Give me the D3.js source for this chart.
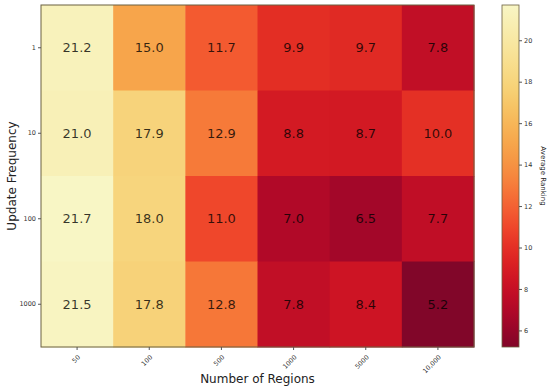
<!DOCTYPE html>
<html><head><meta charset="utf-8">
<script src="https://cdn.jsdelivr.net/npm/d3@7"></script>
<style>body{margin:0;background:#fff;} text{font-family:"DejaVu Sans",sans-serif;}</style>
</head><body><svg id="c" width="550" height="388"></svg>
<script>
const regions = ["50","100","500","1000","5000","10,000"];
const frequencies = ["1","10","100","1000"];
const row1 = [21.2, 15.0, 11.7, 9.9, 9.7, 7.8];
const row10 = [21.0, 17.9, 12.9, 8.8, 8.7, 10.0];
const row100 = [21.7, 18.0, 11.0, 7.0, 6.5, 7.7];
const row1000 = [21.5, 17.8, 12.8, 7.8, 8.4, 5.2];
const rows = [row1, row10, row100, row1000];
const cbTicks = [6, 8, 10, 12, 14, 16, 18, 20];
const vmin = 5.2, vmax = 21.7;

const svg = d3.select("#c");
const L = 41, R = 474, T = 5, B = 347;
const x = d3.scaleBand().domain(regions).range([L, R]);
const y = d3.scaleBand().domain(frequencies).range([T, B]);
const color = v => {
  const c = d3.rgb(d3.interpolateYlOrRd(1 - (v - vmin) / (vmax - vmin)));
  // slight muting toward a warm grey, like the reference rendering
  return d3.interpolateRgb(c, "#8a6a5a")(0.06);
};

const cells = [];
rows.forEach((r, i) => r.forEach((v, j) => cells.push({f: frequencies[i], r: regions[j], v})));

svg.append("g").selectAll("rect").data(cells).join("rect")
  .attr("x", d => x(d.r)).attr("y", d => y(d.f))
  .attr("width", x.bandwidth() + 0.5).attr("height", y.bandwidth() + 0.5)
  .attr("fill", d => color(d.v));

svg.append("g").selectAll("text").data(cells).join("text")
  .attr("x", d => x(d.r) + x.bandwidth() / 2).attr("y", d => y(d.f) + y.bandwidth() / 2)
  .attr("text-anchor", "middle").attr("dominant-baseline", "central")
  .attr("font-size", 13).attr("fill", "#000").attr("fill-opacity", 0.78)
  .text(d => d.v.toFixed(1));

svg.append("rect").attr("x", L).attr("y", T).attr("width", R - L).attr("height", B - T)
  .attr("fill", "none").attr("stroke", "#6b6040").attr("stroke-width", 1);

// Y axis
const yAxis = svg.append("g").attr("transform", `translate(${L},0)`)
  .call(d3.axisLeft(y).tickSize(3).tickPadding(2));
yAxis.select(".domain").remove();
yAxis.selectAll("text").attr("font-size", 6.5).attr("fill", "#333");
yAxis.selectAll("line").attr("stroke", "#555");

// X axis
const xAxis = svg.append("g").attr("transform", `translate(0,${B})`)
  .call(d3.axisBottom(x).tickSize(3).tickPadding(2));
xAxis.select(".domain").remove();
xAxis.selectAll("line").attr("stroke", "#555");
xAxis.selectAll("text").attr("font-size", 6.5).attr("fill", "#333")
  .attr("text-anchor", "end").attr("x", 0).attr("y", 0).attr("dy", "0.35em")
  .attr("transform", "translate(2,9) rotate(-45)");

svg.append("text").attr("x", (L + R) / 2).attr("y", 383).attr("text-anchor", "middle")
  .attr("font-size", 12).attr("fill", "#222").text("Number of Regions");
svg.append("text").attr("transform", `translate(16,${(T + B) / 2}) rotate(-90)`)
  .attr("text-anchor", "middle").attr("font-size", 12).attr("fill", "#222").text("Update Frequency");

// Colorbar
const cbX = 502, cbW = 17;
const cy = d3.scaleLinear().domain([vmin, vmax]).range([B, T]);
const defs = svg.append("defs");
const grad = defs.append("linearGradient").attr("id", "g").attr("x1", 0).attr("x2", 0).attr("y1", 1).attr("y2", 0);
d3.range(0, 1.0001, 0.05).forEach(t => {
  grad.append("stop").attr("offset", t).attr("stop-color", color(vmin + t * (vmax - vmin)));
});
svg.append("rect").attr("x", cbX).attr("y", T).attr("width", cbW).attr("height", B - T)
  .attr("fill", "url(#g)").attr("stroke", "#6b6040").attr("stroke-width", 0.8);
const cAxis = svg.append("g").attr("transform", `translate(${cbX + cbW},0)`)
  .call(d3.axisRight(cy).tickValues(cbTicks).tickSize(3).tickPadding(2));
cAxis.select(".domain").remove();
cAxis.selectAll("line").attr("stroke", "#555");
cAxis.selectAll("text").attr("font-size", 6.5).attr("fill", "#333");
svg.append("text").attr("transform", `translate(541,${(T + B) / 2}) rotate(90)`)
  .attr("text-anchor", "middle").attr("font-size", 7).attr("fill", "#222").text("Average Ranking");
</script></body></html>
